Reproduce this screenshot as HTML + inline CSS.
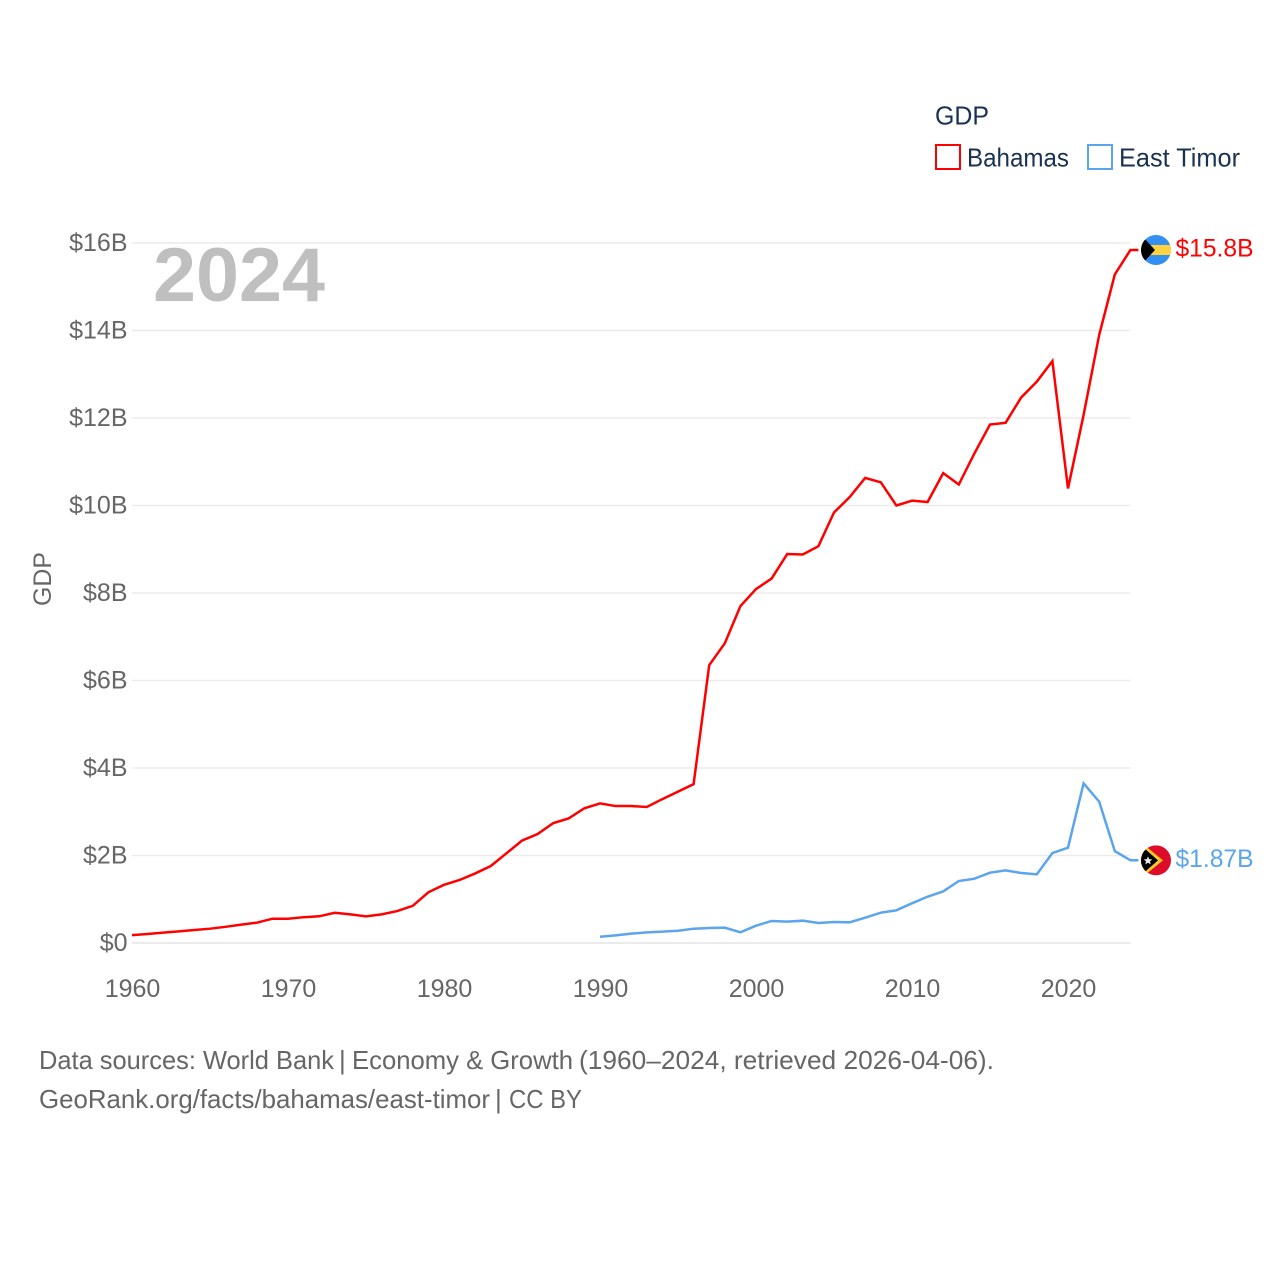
<!DOCTYPE html>
<html lang="en">
<head>
<meta charset="utf-8">
<title>GDP: Bahamas and East Timor</title>
<style>
html,body{margin:0;padding:0;background:#fff;width:1280px;height:1280px;overflow:hidden}
svg{display:block}
text{font-family:"Liberation Sans",sans-serif}
</style>
</head>
<body>
<svg id="chart" xmlns="http://www.w3.org/2000/svg" width="1280" height="1280" viewBox="0 0 1280 1280">
  <defs>
    <clipPath id="flag-clip"><circle cx="0" cy="0" r="15"/></clipPath>
  </defs>
  <rect x="0" y="0" width="1280" height="1280" fill="#fff"/>

  <g>
    <text x="935" y="124.5" font-size="26" fill="#1a3152" textLength="54" lengthAdjust="spacingAndGlyphs">GDP</text>
    <g>
      <rect x="936" y="145" width="24" height="24" fill="none" stroke="#ff0000" stroke-width="2"/>
      <text x="967" y="166.5" font-size="26" fill="#1a3152" textLength="102" lengthAdjust="spacingAndGlyphs">Bahamas</text>
    </g>
    <g>
      <rect x="1088" y="145" width="24" height="24" fill="none" stroke="#5ba4ee" stroke-width="2"/>
      <text x="1119" y="166.5" font-size="26" fill="#1a3152" textLength="121" lengthAdjust="spacingAndGlyphs">East Timor</text>
    </g>
  </g>

  <g id="grid"></g>
  <g id="y-axis"></g>
  <g id="x-axis"></g>
  <text transform="translate(51,579) rotate(-90)" text-anchor="middle" font-size="25" fill="#666666" textLength="54" lengthAdjust="spacingAndGlyphs">GDP</text>
  <text x="153" y="301" font-size="76" font-weight="700" fill="#bfbfbf" textLength="172" lengthAdjust="spacingAndGlyphs">2024</text>

  <g id="series"></g>

  <g id="flag-bahamas" clip-path="url(#flag-clip)">
    <rect x="-15" y="-15" width="30" height="30" fill="#338ff0"/>
    <rect x="-15" y="-5" width="30" height="10" fill="#ffd23f"/>
    <polygon points="-15,-15 -1,0 -15,15" fill="#000"/>
  </g>
  <g id="flag-east-timor" clip-path="url(#flag-clip)">
    <rect x="-15" y="-15" width="30" height="30" fill="#dc0c2a"/>
    <polygon points="-15,-18 7,0 -15,18" fill="#ffc726"/>
    <polygon points="-15,-15 2,0 -15,15" fill="#000"/>
    <polygon points="-8,-4 -6.8,-1.2 -3.8,-1 -6,1 -5.3,4 -8,2.4 -10.7,4 -10,1 -12.2,-1 -9.2,-1.2" fill="#e8e8e8"/>
  </g>
  <text id="label-bahamas" x="1175.5" font-size="25" fill="#ff0000" textLength="78" lengthAdjust="spacingAndGlyphs"></text>
  <text id="label-east-timor" x="1175.5" font-size="25" fill="#5ba4ee" textLength="78" lengthAdjust="spacingAndGlyphs"></text>

  <g>
    <text y="1069" font-size="26" fill="#666666"><tspan x="39" textLength="295" lengthAdjust="spacingAndGlyphs">Data sources: World Bank</tspan><tspan x="339">|</tspan><tspan x="352" textLength="221" lengthAdjust="spacingAndGlyphs">Economy &amp; Growth</tspan><tspan x="579" textLength="415" lengthAdjust="spacingAndGlyphs">(1960–2024, retrieved 2026-04-06).</tspan></text>
    <text y="1108" font-size="26" fill="#666666"><tspan x="39" textLength="451" lengthAdjust="spacingAndGlyphs">GeoRank.org/facts/bahamas/east-timor</tspan><tspan x="495">|</tspan><tspan x="509" textLength="73" lengthAdjust="spacingAndGlyphs">CC BY</tspan></text>
  </g>
</svg>
<script>
const yTickValues = [0, 2, 4, 6, 8, 10, 12, 14, 16];
const yTickLabels = ["$0", "$2B", "$4B", "$6B", "$8B", "$10B", "$12B", "$14B", "$16B"];
const xTickYears = [1960, 1970, 1980, 1990, 2000, 2010, 2020];
const bahamasStartYear = 1960;
const bahamasGdp = [0.18, 0.206, 0.236, 0.267, 0.297, 0.327, 0.37, 0.42, 0.464, 0.555,
  0.555, 0.59, 0.61, 0.69, 0.655, 0.61, 0.655, 0.73, 0.85, 1.16,
  1.33, 1.44, 1.59, 1.76, 2.05, 2.34, 2.49, 2.74, 2.85, 3.08,
  3.19, 3.13, 3.13, 3.11, 3.29, 3.46, 3.63, 6.35, 6.85, 7.70,
  8.09, 8.33, 8.89, 8.88, 9.07, 9.84, 10.19, 10.63, 10.53, 10.0,
  10.11, 10.08, 10.74, 10.48, 11.19, 11.85, 11.89, 12.47, 12.83, 13.30,
  10.39, 12.07, 13.90, 15.28, 15.84];
const eastTimorStartYear = 1990;
const eastTimorGdp = [0.144, 0.175, 0.213, 0.244, 0.259, 0.28, 0.327, 0.343, 0.35, 0.244,
  0.396, 0.503, 0.488, 0.51, 0.457, 0.48, 0.473, 0.578, 0.693, 0.747,
  0.907, 1.06, 1.18, 1.417, 1.47, 1.607, 1.66, 1.60, 1.57, 2.057,
  2.18, 3.65, 3.23, 2.10, 1.89];
const bahamasEndLabel = "$15.8B";
const eastTimorEndLabel = "$1.87B";

const SVG_NS = "http://www.w3.org/2000/svg";
function xScale(year) { return 132 + (year - 1960) * 15.6; }
function yScale(value) { return 943 - value * 43.75; }

const gridGroup = document.getElementById("grid");
const yAxisGroup = document.getElementById("y-axis");
const xAxisGroup = document.getElementById("x-axis");
const seriesGroup = document.getElementById("series");

yTickValues.forEach(function (v, i) {
  const line = document.createElementNS(SVG_NS, "line");
  
  
  line.setAttribute("x1", xScale(1960));
  line.setAttribute("x2", xScale(2024));
  line.setAttribute("y1", yScale(v));
  line.setAttribute("y2", yScale(v));
  line.setAttribute("stroke", "#ebebeb");
  line.setAttribute("stroke-width", v === 0 ? 2 : 1.5);
  gridGroup.appendChild(line);

  const label = document.createElementNS(SVG_NS, "text");
  
  
  label.setAttribute("x", 127.5);
  label.setAttribute("y", yScale(v) + 8);
  label.setAttribute("text-anchor", "end");
  label.setAttribute("font-size", 25);
  label.setAttribute("fill", "#666666");
  label.textContent = yTickLabels[i];
  yAxisGroup.appendChild(label);
});

xTickYears.forEach(function (year) {
  const label = document.createElementNS(SVG_NS, "text");
  
  
  label.setAttribute("x", xScale(year) + 0.5);
  label.setAttribute("y", 997);
  label.setAttribute("text-anchor", "middle");
  label.setAttribute("font-size", 25);
  label.setAttribute("fill", "#666666");
  label.textContent = String(year);
  xAxisGroup.appendChild(label);
});

function seriesPath(startYear, values) {
  const pts = values.map(function (v, i) {
    return xScale(startYear + i).toFixed(2) + "," + yScale(v).toFixed(2);
  });
  const endY = yScale(values[values.length - 1]).toFixed(2);
  const endX = xScale(startYear + values.length - 1) + 8;
  return "M" + pts.join("L") + "L" + endX.toFixed(2) + "," + endY;
}

const bahamasLine = document.createElementNS(SVG_NS, "path");


bahamasLine.setAttribute("d", seriesPath(bahamasStartYear, bahamasGdp));
bahamasLine.setAttribute("fill", "none");
bahamasLine.setAttribute("stroke", "#ff0000");
bahamasLine.setAttribute("stroke-width", 2.5);
bahamasLine.setAttribute("stroke-linejoin", "miter");
seriesGroup.appendChild(bahamasLine);

const eastTimorLine = document.createElementNS(SVG_NS, "path");


eastTimorLine.setAttribute("d", seriesPath(eastTimorStartYear, eastTimorGdp));
eastTimorLine.setAttribute("fill", "none");
eastTimorLine.setAttribute("stroke", "#5ba4ee");
eastTimorLine.setAttribute("stroke-width", 2.5);
eastTimorLine.setAttribute("stroke-linejoin", "miter");
seriesGroup.appendChild(eastTimorLine);

const bahamasEndY = yScale(bahamasGdp[bahamasGdp.length - 1]);
const eastTimorEndY = yScale(eastTimorGdp[eastTimorGdp.length - 1]);
document.getElementById("flag-bahamas").setAttribute("transform", "translate(1156," + bahamasEndY + ")");
document.getElementById("flag-east-timor").setAttribute("transform", "translate(1156," + eastTimorEndY + ")");
const bahamasLabelEl = document.getElementById("label-bahamas");
bahamasLabelEl.setAttribute("y", bahamasEndY + 6.5);
bahamasLabelEl.textContent = bahamasEndLabel;
const eastTimorLabelEl = document.getElementById("label-east-timor");
eastTimorLabelEl.setAttribute("y", eastTimorEndY + 6.5);
eastTimorLabelEl.textContent = eastTimorEndLabel;
</script>
</body>
</html>
